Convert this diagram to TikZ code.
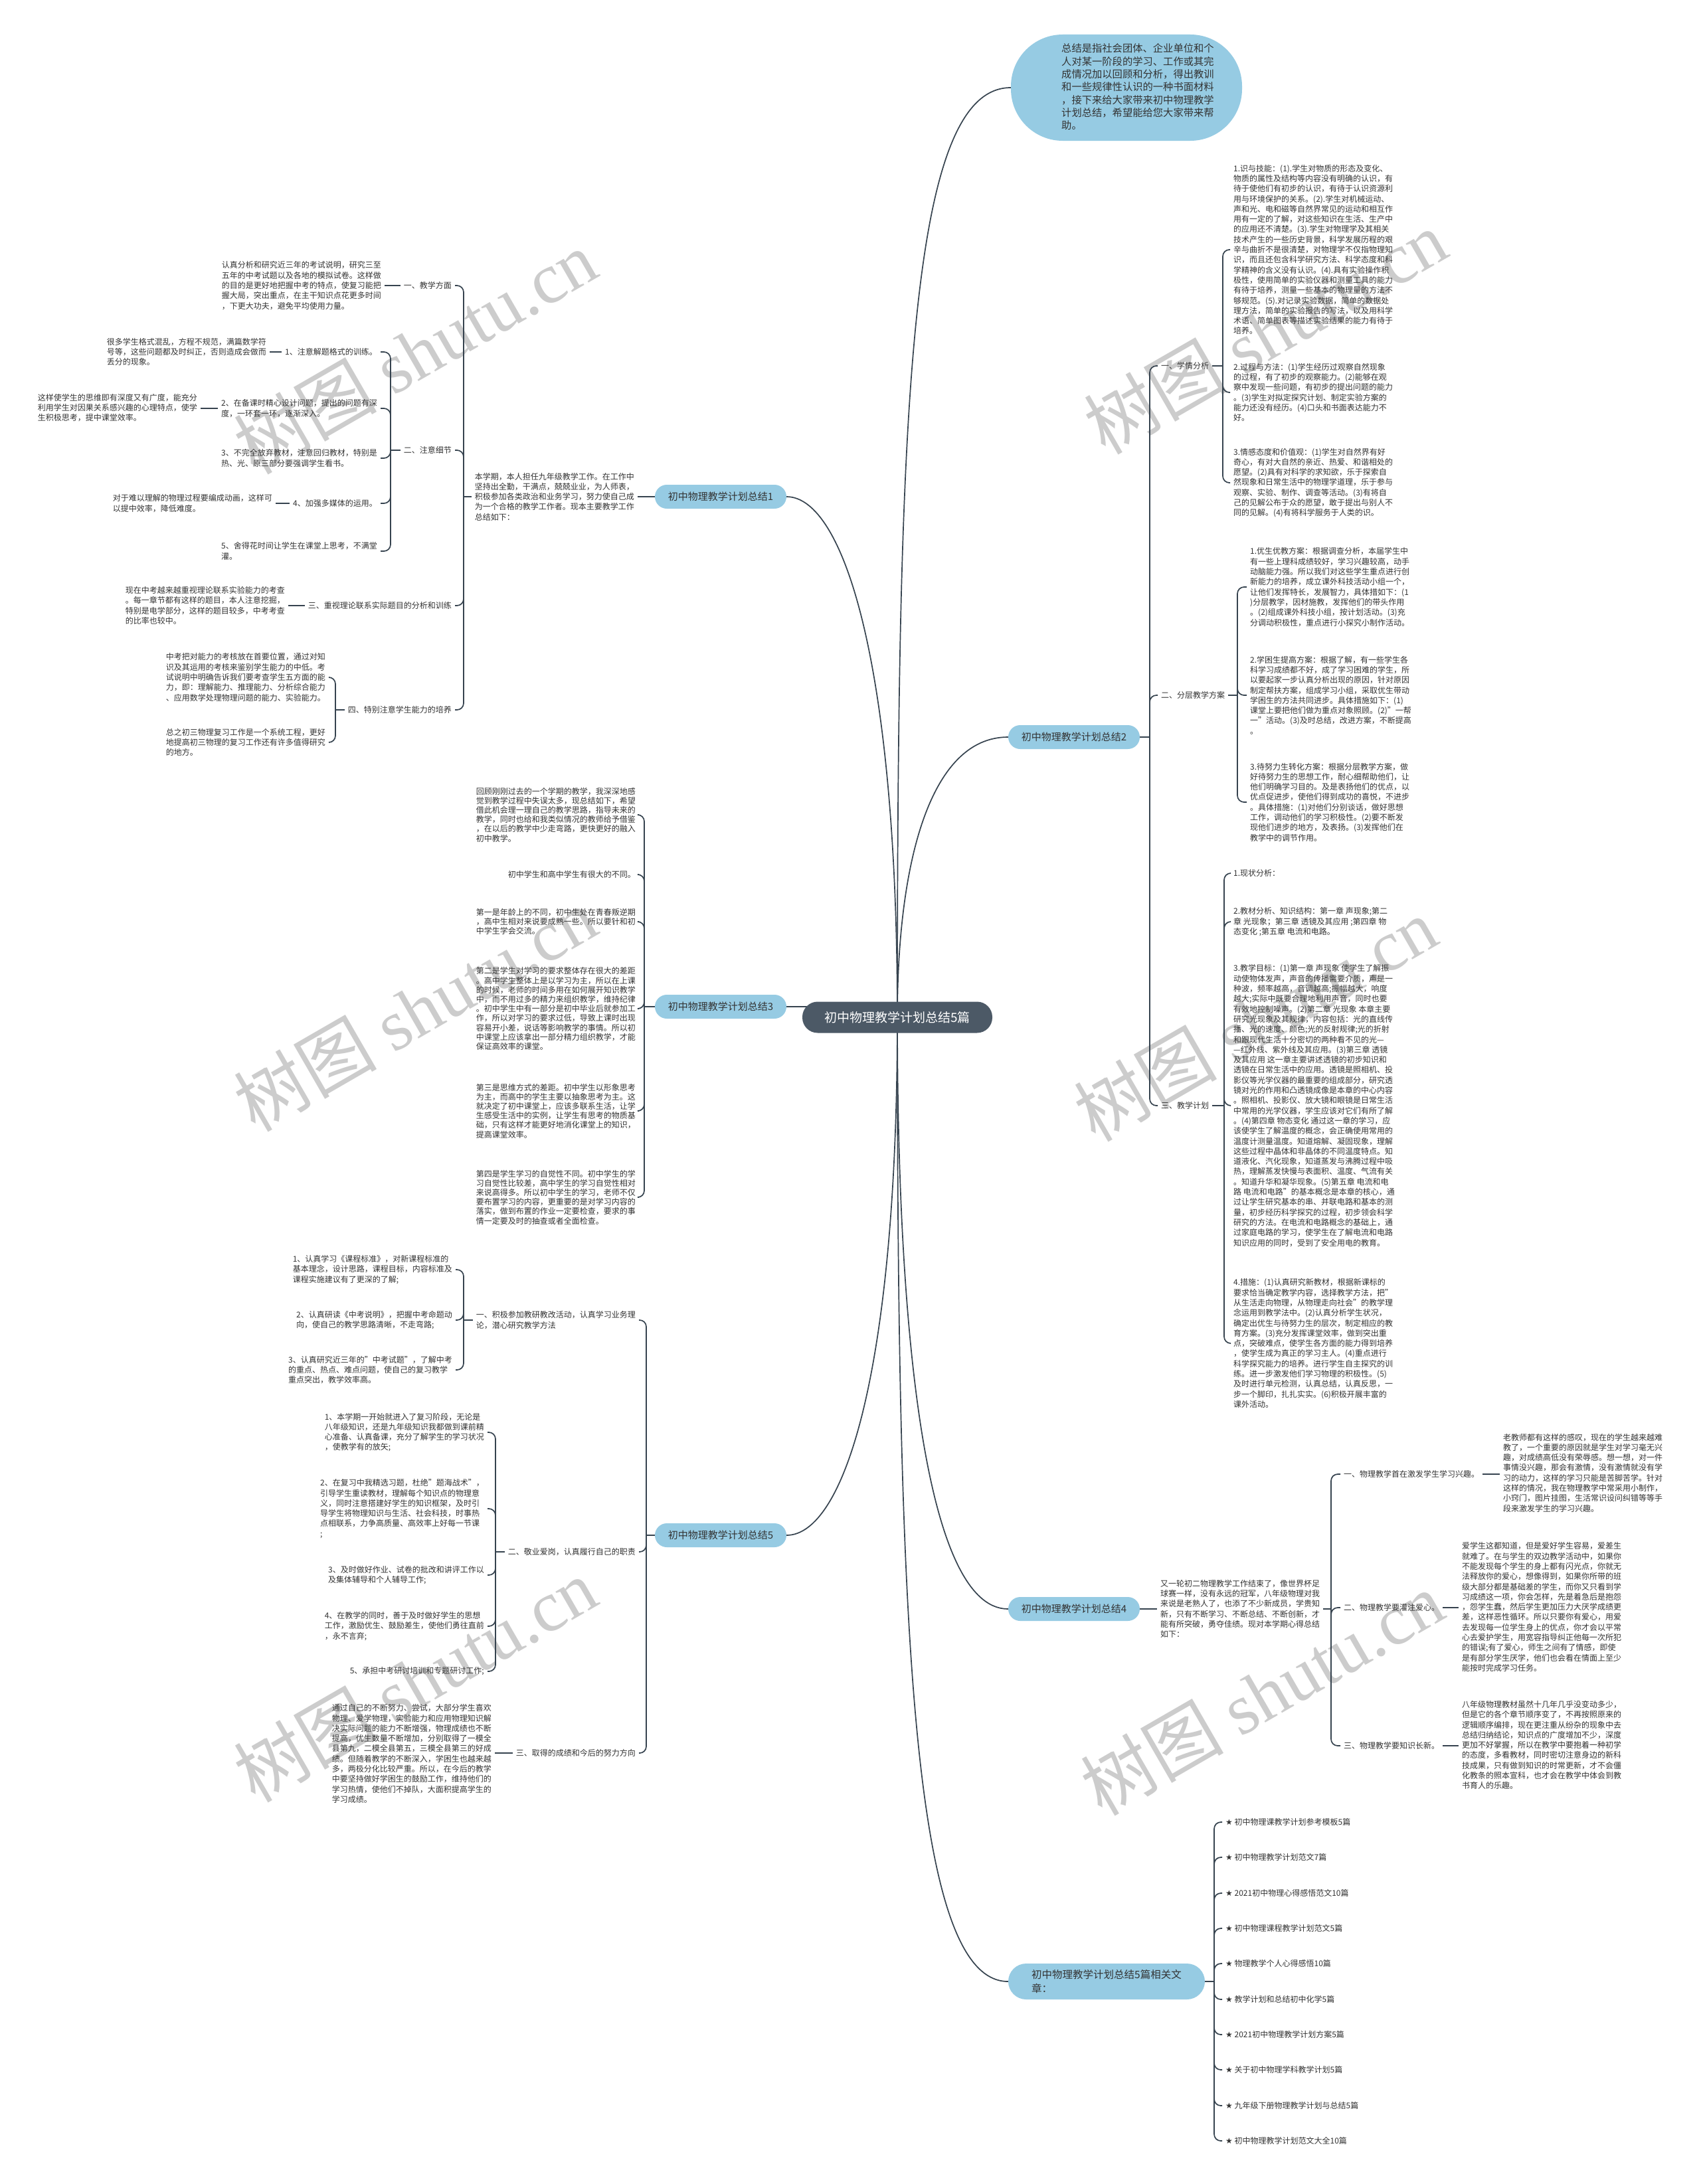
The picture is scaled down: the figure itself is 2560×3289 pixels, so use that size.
\documentclass[tikz,border=0pt]{standalone}
\usepackage{fontspec}
\setmainfont{Noto Sans CJK SC}
\newfontfamily\symf{DejaVu Sans}
\newfontfamily\wmlat{Liberation Serif}
\usetikzlibrary{backgrounds}
\definecolor{linec}{HTML}{36434F}
\definecolor{pillc}{HTML}{96CBE3}
\definecolor{centerc}{HTML}{4C5966}
\definecolor{txtc}{HTML}{333333}
\tikzset{
  conn/.style={draw=linec, line width=1.7pt, rounded corners=10pt},
  leaf/.style={inner xsep=5pt, inner ysep=0pt, align=left, text=txtc, font=\fontsize{12}{15.3}\selectfont},
  leafb/.style={leaf, font=\fontsize{12}{14.2}\selectfont},
  pill/.style={fill=pillc, rounded corners=18pt, minimum width=198pt, minimum height=36pt, inner sep=0pt, text=txtc, font=\fontsize{15}{19}\selectfont},
  ctrbox/.style={fill=centerc, text=white, rounded corners=23pt, minimum width=286pt, minimum height=47pt, inner sep=0pt, font=\fontsize{19}{23}\selectfont},
  wm/.style={text=black!20, font=\fontsize{108}{108}\selectfont, inner sep=0pt}
}
\begin{document}
\begin{tikzpicture}[x=1pt,y=-1pt]
\useasboundingbox (0,0) rectangle (2560,3289);

% ---------- center ----------
\node[ctrbox] (ctr) at (1351,1532) {初中物理教学计划总结5篇};

% ---------- intro ----------
\node[fill=pillc, rounded corners=78pt, minimum width=348pt, minimum height=160pt, inner sep=0pt] (intro) at (1696,132) {};
\node[leaf, anchor=west, font=\fontsize{15.3}{19.3}\selectfont] (introt) at (1593,131) {总结是指社会团体、企业单位和个\\人对某一阶段的学习、工作或其完\\成情况加以回顾和分析，得出教训\\和一些规律性认识的一种书面材料\\，接下来给大家带来初中物理教学\\计划总结，希望能给您大家带来帮\\助。};

% ---------- branch 2 ----------
\node[pill] (p2) at (1617,1110) {初中物理教学计划总结2};
\node[leaf, anchor=west] (b2a) at (1743,551) {一、学情分析};
\node[leaf, anchor=west] (b2b) at (1743,1047) {二、分层教学方案};
\node[leaf, anchor=west] (b2c) at (1743,1665) {三、教学计划};

\node[leaf, anchor=west] (q1) at (1852,376) {1.识与技能：(1).学生对物质的形态及变化、\\物质的属性及结构等内容没有明确的认识，有\\待于使他们有初步的认识，有待于认识资源利\\用与环境保护的关系。(2).学生对机械运动、\\声和光、电和磁等自然界常见的运动和相互作\\用有一定的了解，对这些知识在生活、生产中\\的应用还不清楚。(3).学生对物理学及其相关\\技术产生的一些历史背景，科学发展历程的艰\\辛与曲折不是很清楚，对物理学不仅指物理知\\识，而且还包含科学研究方法、科学态度和科\\学精神的含义没有认识。(4).具有实验操作积\\极性，使用简单的实验仪器和测量工具的能力\\有待于培养，测量一些基本的物理量的方法不\\够规范。(5).对记录实验数据，简单的数据处\\理方法，简单的实验报告的写法，以及用科学\\术语、简单图表等描述实验结果的能力有待于\\培养。};
\node[leaf, anchor=west] (q2) at (1852,591) {2.过程与方法：(1)学生经历过观察自然现象\\的过程，有了初步的观察能力。(2)能够在观\\察中发现一些问题，有初步的提出问题的能力\\。(3)学生对拟定探究计划、制定实验方案的\\能力还没有经历。(4)口头和书面表达能力不\\好。};
\node[leaf, anchor=west] (q3) at (1852,727) {3.情感态度和价值观：(1)学生对自然界有好\\奇心，有对大自然的亲近、热爱、和谐相处的\\愿望。(2)具有对科学的求知欲，乐于探索自\\然现象和日常生活中的物理学道理，乐于参与\\观察、实验、制作、调查等活动。(3)有将自\\己的见解公布于众的愿望，敢于提出与别人不\\同的见解。(4)有将科学服务于人类的识。};

\node[leaf, anchor=west] (s1) at (1877,884) {1.优生优教方案：根据调查分析，本届学生中\\有一些上理科成绩较好，学习兴趣较高，动手\\动脑能力强。所以我们对这些学生重点进行创\\新能力的培养，成立课外科技活动小组一个，\\让他们发挥特长，发展智力，具体措如下：(1\\)分层教学，因材施教，发挥他们的带头作用\\。(2)组成课外科技小组，按计划活动。(3)充\\分调动积极性，重点进行小探究小制作活动。};
\node[leaf, anchor=west] (s2) at (1877,1047) {2.学困生提高方案：根据了解，有一些学生各\\科学习成绩都不好，成了学习困难的学生，所\\以要起家一步认真分析出现的原因，针对原因\\制定帮扶方案，组成学习小组，采取优生带动\\学困生的方法共同进步。具体措施如下：(1)\\课堂上要把他们做为重点对象照顾。(2)"一帮\\一"活动。(3)及时总结，改进方案，不断提高\\。};
\node[leaf, anchor=west] (s3) at (1877,1208) {3.待努力生转化方案：根据分层教学方案，做\\好待努力生的思想工作，耐心细帮助他们，让\\他们明确学习目的。及是表扬他们的优点，以\\优点促进步，使他们得到成功的喜悦，不进步\\。具体措施：(1)对他们分别谈话，做好思想\\工作，调动他们的学习积极性。(2)要不断发\\现他们进步的地方，及表扬。(3)发挥他们在\\教学中的调节作用。};

\node[leaf, anchor=west] (k1) at (1852,1315) {1.现状分析：};
\node[leaf, anchor=west] (k2) at (1852,1388) {2.教材分析、知识结构：第一章 声现象;第二\\章 光现象；第三章 透镜及其应用 ;第四章 物\\态变化 ;第五章 电流和电路。};
\node[leaf, anchor=west] (k3) at (1852,1665) {3.教学目标：(1)第一章 声现象 使学生了解振\\动使物体发声，声音的传播需要介质，声是一\\种波，频率越高，音调越高;振幅越大，响度\\越大;实际中既要合理地利用声音，同时也要\\有效地控制噪声。(2)第二章 光现象 本章主要\\研究光现象及其规律，内容包括：光的直线传\\播、光的速度、颜色;光的反射规律;光的折射\\和跟现代生活十分密切的两种看不见的光—\\—红外线、紫外线及其应用。(3)第三章 透镜\\及其应用 这一章主要讲述透镜的初步知识和\\透镜在日常生活中的应用。透镜是照相机、投\\影仪等光学仪器的最重要的组成部分，研究透\\镜对光的作用和凸透镜成像是本章的中心内容\\。照相机、投影仪、放大镜和眼镜是日常生活\\中常用的光学仪器，学生应该对它们有所了解\\。(4)第四章 物态变化 通过这一章的学习，应\\该使学生了解温度的概念，会正确使用常用的\\温度计测量温度。知道熔解、凝固现象，理解\\这些过程中晶体和非晶体的不同温度特点。知\\道液化、汽化现象，知道蒸发与沸腾过程中吸\\热，理解蒸发快慢与表面积、温度、气流有关\\。知道升华和凝华现象。(5)第五章 电流和电\\路 电流和电路"的基本概念是本章的核心，通\\过让学生研究基本的串、并联电路和基本的测\\量，初步经历科学探究的过程，初步领会科学\\研究的方法。在电流和电路概念的基础上，通\\过家庭电路的学习，使学生在了解电流和电路\\知识应用的同时，受到了安全用电的教育。};
\node[leaf, anchor=west] (k4) at (1852,2023) {4.措施：(1)认真研究新教材，根据新课标的\\要求恰当确定教学内容，选择教学方法，把"\\从生活走向物理，从物理走向社会"的教学理\\念运用到教学法中。(2)认真分析学生状况，\\确定出优生与待努力生的层次，制定相应的教\\育方案。(3)充分发挥课堂效率，做到突出重\\点，突破难点，使学生各方面的能力得到培养\\，使学生成为真正的学习主人。(4)重点进行\\科学探究能力的培养。进行学生自主探究的训\\练。进一步激发他们学习物理的积极性。(5)\\及时进行单元检测，认真总结，认真反思，一\\步一个脚印，扎扎实实。(6)积极开展丰富的\\课外活动。};

% ---------- branch 4 ----------
\node[pill] (p4) at (1617,2423) {初中物理教学计划总结4};
\node[leaf, anchor=west] (t4) at (1742,2423) {又一轮初二物理教学工作结束了，像世界杯足\\球赛一样，没有永远的冠军，八年级物理对我\\来说是老熟人了，也添了不少新成员，学贵知\\新，只有不断学习、不断总结、不断创新，才\\能有所突破，勇夺佳绩。现对本学期心得总结\\如下：};
\node[leaf, anchor=west] (g1) at (2018,2220) {一、物理教学首在激发学生学习兴趣。};
\node[leaf, anchor=west] (g2) at (2018,2421) {二、物理教学要灌注爱心。};
\node[leaf, anchor=west] (g3) at (2018,2629) {三、物理教学要知识长新。};
\node[leaf, anchor=west] (h1) at (2258,2218) {老教师都有这样的感叹，现在的学生越来越难\\教了，一个重要的原因就是学生对学习毫无兴\\趣，对成绩高低没有荣辱感。想一想，对一件\\事情没兴趣，那会有激情，没有激情就没有学\\习的动力，这样的学习只能是苦脚苦学。针对\\这样的情况，我在物理教学中常采用小制作，\\小窍门，图片挂图，生活常识设问纠错等等手\\段来激发学生的学习兴趣。};
\node[leaf, anchor=west] (h2) at (2196,2420) {爱学生这都知道，但是爱好学生容易，爱差生\\就难了。在与学生的双边教学活动中，如果你\\不能发现每个学生的身上都有闪光点，你就无\\法释放你的爱心，想像得到，如果你所带的班\\级大部分都是基础差的学生，而你又只看到学\\习成绩这一项，你会怎样，先是着急后是抱怨\\，怨学生蠢，然后学生更加压力大厌学成绩更\\差，这样恶性循环。所以只要你有爱心，用爱\\去发现每一位学生身上的优点，你才会以平常\\心去爱护学生，用宽容指导纠正他每一次所犯\\的错误;有了爱心，师生之间有了情感，即使\\是有部分学生厌学，他们也会看在情面上至少\\能按时完成学习任务。};
\node[leaf, anchor=west] (h3) at (2196,2628) {八年级物理教材虽然十几年几乎没变动多少，\\但是它的各个章节顺序变了，不再按照原来的\\逻辑顺序编排，现在更注重从纷杂的现象中去\\总结归纳结论，知识点的广度增加不少，深度\\更加不好掌握，所以在教学中要抱着一种初学\\的态度，多看教材，同时密切注意身边的新科\\技成果，只有做到知识的时常更新，才不会僵\\化教条的照本宣科，也才会在教学中体会到教\\书育人的乐趣。};

% ---------- related ----------
\node[pill, minimum width=296pt, minimum height=54pt, rounded corners=27pt, align=left, font=\fontsize{15.5}{21}\selectfont] (pR) at (1666,2984) {初中物理教学计划总结5篇相关文\\章：};
\node[leaf, anchor=west] (r0) at (1840,2744) {{\symf ★} 初中物理课教学计划参考模板5篇};
\node[leaf, anchor=west] (r1) at (1840,2797) {{\symf ★} 初中物理教学计划范文7篇};
\node[leaf, anchor=west] (r2) at (1840,2851) {{\symf ★} 2021初中物理心得感悟范文10篇};
\node[leaf, anchor=west] (r3) at (1840,2904) {{\symf ★} 初中物理课程教学计划范文5篇};
\node[leaf, anchor=west] (r4) at (1840,2957) {{\symf ★} 物理教学个人心得感悟10篇};
\node[leaf, anchor=west] (r5) at (1840,3011) {{\symf ★} 教学计划和总结初中化学5篇};
\node[leaf, anchor=west] (r6) at (1840,3064) {{\symf ★} 2021初中物理教学计划方案5篇};
\node[leaf, anchor=west] (r7) at (1840,3117) {{\symf ★} 关于初中物理学科教学计划5篇};
\node[leaf, anchor=west] (r8) at (1840,3171) {{\symf ★} 九年级下册物理教学计划与总结5篇};
\node[leaf, anchor=west] (r9) at (1840,3224) {{\symf ★} 初中物理教学计划范文大全10篇};

% ---------- branch 1 ----------
\node[pill] (p1) at (1085,748) {初中物理教学计划总结1};
\node[leaf, anchor=east] (t1) at (960,748) {本学期，本人担任九年级教学工作。在工作中\\坚持出全勤，干满点，兢兢业业，为人师表，\\积极参加各类政治和业务学习，努力使自己成\\为一个合格的教学工作者。现本主要教学工作\\总结如下：};
\node[leaf, anchor=east] (a1) at (685,430) {一、教学方面};
\node[leaf, anchor=east] (a2) at (685,678) {二、注意细节};
\node[leaf, anchor=east] (a3) at (685,912) {三、重视理论联系实际题目的分析和训练};
\node[leaf, anchor=east] (a4) at (685,1069) {四、特别注意学生能力的培养};
\node[leaf, anchor=east] (a1l) at (579,430) {认真分析和研究近三年的考试说明，研究三至\\五年的中考试题以及各地的模拟试卷。这样做\\的目的是更好地把握中考的特点，使复习能把\\握大局，突出重点，在主干知识点花更多时间\\，下更大功夫，避免平均使用力量。};
\node[leaf, anchor=east] (i1) at (573,530) {1、注意解题格式的训练。};
\node[leaf, anchor=east] (i2) at (573,615) {2、在备课时精心设计问题，提出的问题有深\\度，一环套一环，逐渐深入。};
\node[leaf, anchor=east] (i3) at (573,690) {3、不完全放弃教材，注意回归教材，特别是\\热、光、原三部分要强调学生看书。};
\node[leaf, anchor=east] (i4) at (573,758) {4、加强多媒体的运用。};
\node[leaf, anchor=east] (i5) at (573,830) {5、舍得花时间让学生在课堂上思考，不满堂\\灌。};
\node[leaf, anchor=east] (i1l) at (406,530) {很多学生格式混乱，方程不规范，满篇数学符\\号等，这些问题都及时纠正，否则造成会做而\\丢分的现象。};
\node[leaf, anchor=east] (i2l) at (302,614) {这样使学生的思维即有深度又有广度，能充分\\利用学生对因果关系感兴趣的心理特点，使学\\生积极思考，提中课堂效率。};
\node[leaf, anchor=east] (i4l) at (415,758) {对于难以理解的物理过程要编成动画，这样可\\以提中效率，降低难度。};
\node[leaf, anchor=east] (a3l) at (434,912) {现在中考越来越重视理论联系实验能力的考查\\。每一章节都有这样的题目，本人注意挖掘，\\特别是电学部分，这样的题目较多，中考考查\\的比率也较中。};
\node[leaf, anchor=east] (a4a) at (495,1020) {中考把对能力的考核放在首要位置，通过对知\\识及其运用的考核来鉴别学生能力的中低。考\\试说明中明确告诉我们要考查学生五方面的能\\力，即：理解能力、推理能力、分析综合能力\\、应用数学处理物理问题的能力、实验能力。};
\node[leaf, anchor=east] (a4b) at (495,1118) {总之初三物理复习工作是一个系统工程，更好\\地提高初三物理的复习工作还有许多值得研究\\的地方。};

% ---------- branch 3 ----------
\node[pill] (p3) at (1085,1516) {初中物理教学计划总结3};
\node[leafb, anchor=east] (L1) at (962,1227) {回顾刚刚过去的一个学期的教学，我深深地感\\觉到教学过程中失误太多，现总结如下，希望\\借此机会理一理自己的教学思路，指导未来的\\教学，同时也给和我类似情况的教师给予借鉴\\，在以后的教学中少走弯路，更快更好的融入\\初中教学。};
\node[leafb, anchor=east] (L2) at (962,1317) {初中学生和高中学生有很大的不同。};
\node[leafb, anchor=east] (L3) at (962,1388) {第一是年龄上的不同，初中生处在青春叛逆期\\，高中生相对来说要成熟一些。所以要针和初\\中学生学会交流。};
\node[leafb, anchor=east] (L4) at (962,1519) {第二是学生对学习的要求整体存在很大的差距\\。高中学生整体上是以学习为主，所以在上课\\的时候，老师的时间多用在如何展开知识教学\\中，而不用过多的精力来组织教学，维持纪律\\。初中学生中有一部分是初中毕业后就参加工\\作，所以对学习的要求过低，导致上课时出现\\容易开小差，说话等影响教学的事情。所以初\\中课堂上应该拿出一部分精力组织教学，才能\\保证高效率的课堂。};
\node[leafb, anchor=east] (L5) at (962,1673) {第三是思维方式的差距。初中学生以形象思考\\为主，而高中的学生主要以抽象思考为主。这\\就决定了初中课堂上，应该多联系生活，让学\\生感受生活中的实例，让学生有思考的物质基\\础，只有这样才能更好地消化课堂上的知识，\\提高课堂效率。};
\node[leafb, anchor=east] (L6) at (962,1803) {第四是学生学习的自觉性不同。初中学生的学\\习自觉性比较差，高中学生的学习自觉性相对\\来说高得多。所以初中学生的学习，老师不仅\\要布置学习的内容，更重要的是对学习内容的\\落实，做到布置的作业一定要检查，要求的事\\情一定要及时的抽查或者全面检查。};

% ---------- branch 5 ----------
\node[pill] (p5) at (1085,2312) {初中物理教学计划总结5};
\node[leaf, anchor=east] (e1) at (962,1988) {一、积极参加教研教改活动，认真学习业务理\\论，潜心研究教学方法};
\node[leaf, anchor=east] (e2) at (962,2337) {二、敬业爱岗，认真履行自己的职责};
\node[leaf, anchor=east] (e3) at (962,2640) {三、取得的成绩和今后的努力方向};
\node[leaf, anchor=east] (c1) at (686,1912) {1、认真学习《课程标准》，对新课程标准的\\基本理念，设计思路，课程目标，内容标准及\\课程实施建议有了更深的了解;};
\node[leaf, anchor=east] (c2) at (686,1988) {2、认真研读《中考说明》，把握中考命题动\\向，使自己的教学思路清晰，不走弯路;};
\node[leaf, anchor=east] (c3) at (686,2063) {3、认真研究近三年的"中考试题"，了解中考\\的重点、热点、难点问题，使自己的复习教学\\重点突出，教学效率高。};
\node[leaf, anchor=east] (d1) at (734,2157) {1、本学期一开始就进入了复习阶段，无论是\\八年级知识，还是九年级知识我都做到课前精\\心准备、认真备课，充分了解学生的学习状况\\，使教学有的放矢;};
\node[leaf, anchor=east] (d2) at (734,2272) {2、在复习中我精选习题，杜绝"题海战术"，\\引导学生重读教材，理解每个知识点的物理意\\义，同时注意搭建好学生的知识框架，及时引\\导学生将物理知识与生活、社会科技，时事热\\点相联系，力争高质量、高效率上好每一节课\\;};
\node[leaf, anchor=east] (d3) at (734,2372) {3、及时做好作业、试卷的批改和讲评工作以\\及集体辅导和个人辅导工作;};
\node[leaf, anchor=east] (d4) at (734,2449) {4、在教学的同时，善于及时做好学生的思想\\工作，激励优生、鼓励差生，使他们勇往直前\\，永不言弃;};
\node[leaf, anchor=east] (d5) at (734,2517) {5、承担中考研讨培训和专题研讨工作;};
\node[leaf, anchor=east] (f1) at (745,2641) {通过自己的不断努力、尝试，大部分学生喜欢\\物理、爱学物理，实验能力和应用物理知识解\\决实际问题的能力不断增强，物理成绩也不断\\提高，优生数量不断增加，分别取得了一模全\\县第九，二模全县第五，三模全县第三的好成\\绩。但随着教学的不断深入，学困生也越来越\\多，两极分化比较严重。所以，在今后的教学\\中要坚持做好学困生的鼓励工作，维持他们的\\学习热情，使他们不掉队，大面积提高学生的\\学习成绩。};

% ---------- background: fill, watermark, connectors ----------
\begin{scope}[on background layer]
\fill[white] (0,0) rectangle (2560,3289);
\foreach \wx/\wy in {625/530, 1905/500, 625/1520, 1890/1535, 625/2530, 1900/2550}
  \node[wm, rotate=30] at (\wx,\wy) {树图 {\wmlat shutu.cn}};

% main curves (all leave from the middle of the central node)
\coordinate (c0) at (1351,1532);
\draw[conn] (c0) .. controls (1351,600) and (1370,132) .. (intro.west);
\draw[conn] (c0) .. controls (1351,1300) and (1400,1110) .. (p2.west);
\draw[conn] (c0) .. controls (1351,2020) and (1395,2423) .. (p4.west);
\draw[conn] (c0) .. controls (1351,2470) and (1375,2984) .. (pR.west);
\draw[conn] (c0) .. controls (1351,1000) and (1270,748) .. (p1.east);
\draw[conn] (p3.east) -- (p3.east -| c0);
\draw[conn] (c0) .. controls (1351,2068) and (1270,2312) .. (p5.east);

% branch 2
\draw[conn] (p2.east) -- (1731,1110);
\foreach \c in {b2a,b2b,b2c} \draw[conn] (1731,1110) |- (\c.west);
\draw[conn] (b2a.east) -- (1841,551);
\foreach \c in {q1,q2,q3} \draw[conn] (1841,551) |- (\c.west);
\draw[conn] (b2b.east) -- (1863,1047);
\foreach \c in {s1,s2,s3} \draw[conn] (1863,1047) |- (\c.west);
\draw[conn] (b2c.east) -- (1843,1665);
\foreach \c in {k1,k2,k3,k4} \draw[conn] (1843,1665) |- (\c.west);

% branch 4
\draw[conn] (p4.east) -- (t4.west);
\draw[conn] (t4.east) -- (2004,2423);
\foreach \c in {g1,g2,g3} \draw[conn] (2004,2423) |- (\c.west);
\draw[conn] (g1.east) -- (g1.east -| h1.west);
\draw[conn] (g2.east) -- (g2.east -| h2.west);
\draw[conn] (g3.east) -- (g3.east -| h3.west);

% related
\draw[conn] (pR.east) -- (1828,2984);
\foreach \c in {r0,r1,r2,r3,r4,r5,r6,r7,r8,r9} \draw[conn] (1828,2984) |- (\c.west);

% branch 1
\draw[conn] (p1.west) -- (t1.east);
\draw[conn] (t1.west) -- (698,748);
\foreach \c in {a1,a2,a3,a4} \draw[conn] (698,748) |- (\c.east);
\draw[conn] (a1.west) -- (a1.west -| a1l.east);
\draw[conn] (a2.west) -- (588,678);
\foreach \c in {i1,i2,i3,i4,i5} \draw[conn] (588,678) |- (\c.east);
\draw[conn] (i1.west) -- (i1.west -| i1l.east);
\draw[conn] (i2.west) -- (i2.west -| i2l.east);
\draw[conn] (i4.west) -- (i4.west -| i4l.east);
\draw[conn] (a3.west) -- (a3.west -| a3l.east);
\draw[conn] (a4.west) -- (505,1069);
\foreach \c in {a4a,a4b} \draw[conn] (505,1069) |- (\c.east);

% branch 3
\draw[conn] (p3.west) -- (970,1516);
\foreach \c in {L1,L2,L3,L4,L5,L6} \draw[conn] (970,1516) |- (\c.east);

% branch 5
\draw[conn] (p5.west) -- (973,2312);
\foreach \c in {e1,e2,e3} \draw[conn] (973,2312) |- (\c.east);
\draw[conn] (e1.west) -- (698,1988);
\foreach \c in {c1,c2,c3} \draw[conn] (698,1988) |- (\c.east);
\draw[conn] (e2.west) -- (746,2337);
\foreach \c in {d1,d2,d3,d4,d5} \draw[conn] (746,2337) |- (\c.east);
\draw[conn] (e3.west) -- (e3.west -| f1.east);
\end{scope}
\end{tikzpicture}
\end{document}
